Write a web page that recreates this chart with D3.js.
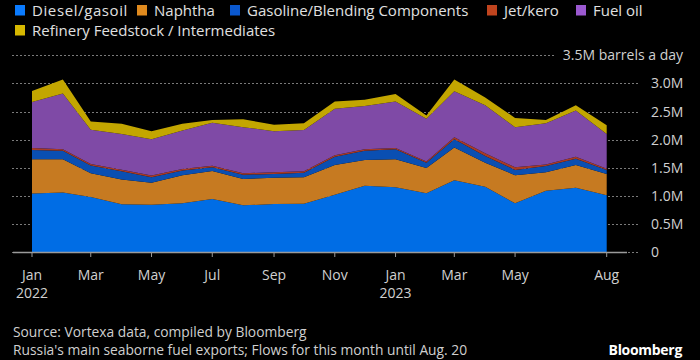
<!DOCTYPE html>
<html>
<head>
<meta charset="utf-8">
<script src="https://cdn.jsdelivr.net/npm/d3@7"></script>
<style>
  html, body { margin: 0; padding: 0; background: #000; }
  svg { display: block; font-family: "Open Sans", sans-serif; }
</style>
</head>
<body>
<svg id="chart" width="700" height="360"></svg>
<script>
// ---- Data (million barrels a day, monthly, 1st of month) ----
const months = ["2022-01","2022-02","2022-03","2022-04","2022-05","2022-06","2022-07","2022-08","2022-09","2022-10",
                "2022-11","2022-12","2023-01","2023-02","2023-03","2023-04","2023-05","2023-06","2023-07","2023-08"];
const diesel    = [1.04,1.06,0.98,0.85,0.84,0.866,0.943,0.83,0.854,0.86,1.02,1.18,1.15,1.044,1.275,1.16,0.866,1.09,1.145,1.01];
const naphtha   = [0.61,0.59,0.42,0.44,0.39,0.50,0.497,0.47,0.466,0.47,0.53,0.457,0.50,0.451,0.585,0.43,0.50,0.33,0.405,0.38];
const gasoline  = [0.165,0.15,0.14,0.145,0.10,0.085,0.067,0.076,0.07,0.08,0.146,0.163,0.18,0.095,0.145,0.12,0.095,0.11,0.11,0.07];
const jetKero   = [0.035,0.03,0.026,0.03,0.03,0.027,0.029,0.024,0.03,0.025,0.024,0.03,0.02,0.02,0.035,0.046,0.047,0.025,0.036,0.02];
const fuelOil   = [0.82,0.99,0.61,0.635,0.645,0.683,0.764,0.82,0.73,0.735,0.83,0.77,0.83,0.76,0.82,0.854,0.713,0.735,0.82,0.62];
const feedstock = [0.195,0.25,0.145,0.18,0.145,0.12,0.05,0.14,0.115,0.12,0.13,0.11,0.13,0.06,0.21,0.14,0.165,0.06,0.095,0.155];

const seriesNames = ["Diesel/gasoil","Naphtha","Gasoline/Blending Components","Jet/kero","Fuel oil","Refinery Feedstock / Intermediates"];
const seriesData = [diesel, naphtha, gasoline, jetKero, fuelOil, feedstock];
const legendColors = ["#0a7bff","#e08a1e","#0a58cf","#c0441e","#9b59d0","#d6b800"];
const areaColors   = ["#006de5","#c67a21","#0a4fb2","#a83a24","#7f4aa6","#c3a600"];

const yTicks = [0, 0.5, 1.0, 1.5, 2.0, 2.5, 3.0, 3.5];
const yTickLabels = ["0","0.5M","1.0M","1.5M","2.0M","2.5M","3.0M","3.5M"];
const xTickDates = ["2022-01","2022-03","2022-05","2022-07","2022-09","2022-11","2023-01","2023-03","2023-05","2023-08"];
const xTickMonth = ["Jan","Mar","May","Jul","Sep","Nov","Jan","Mar","May","Aug"];
const xTickYear  = ["2022","","","","","","2023","","",""];
const unitLabel = "barrels a day";
const source1 = "Source: Vortexa data, compiled by Bloomberg";
const source2 = "Russia's main seaborne fuel exports; Flows for this month until Aug. 20";

// ---- Build ----
const parse = d3.timeParse("%Y-%m");
const table = months.map((m, i) => {
  const row = { date: parse(m) };
  seriesNames.forEach((n, k) => row[n] = seriesData[k][i]);
  return row;
});

const svg = d3.select("#chart");
const x = d3.scaleTime().domain([parse("2022-01"), parse("2023-08")]).range([32, 606.7]);
const y = d3.scaleLinear().domain([0, 3.5]).range([252, 55.3]);

// gridlines
svg.append("g").selectAll("line").data(yTicks).join("line")
  .attr("x1", 12).attr("x2", (d, i) => i === yTicks.length - 1 ? 556 : 640)
  .attr("y1", d => Math.round(y(d)) + 0.5).attr("y2", d => Math.round(y(d)) + 0.5)
  .attr("stroke", "#7a7a7a").attr("stroke-width", 1).attr("stroke-dasharray", "2,2");

// stacked areas
const stack = d3.stack().keys(seriesNames);
const layers = stack(table);
const area = d3.area().x(d => x(d.data.date)).y0(d => y(d[0])).y1(d => y(d[1]));
svg.append("g").selectAll("path").data(layers).join("path")
  .attr("d", area).attr("fill", (d, i) => areaColors[i]);

// x axis
const xAxis = svg.append("g");
xAxis.append("line").attr("x1", 13).attr("x2", 627).attr("y1", 252.5).attr("y2", 252.5)
  .attr("stroke", "#9a9a9a").attr("stroke-width", 1.5);
const ticks = xAxis.selectAll("g.tick").data(xTickDates).join("g")
  .attr("transform", d => `translate(${x(parse(d))},0)`);
ticks.append("line").attr("y1", 252).attr("y2", 257).attr("stroke", "#9a9a9a").attr("stroke-width", 1);
ticks.append("text").attr("y", 279.5).attr("text-anchor", "middle").attr("fill", "#d0d0d0")
  .attr("font-size", 14).text((d, i) => xTickMonth[i]);
ticks.append("text").attr("y", 298).attr("text-anchor", "middle").attr("fill", "#d0d0d0")
  .attr("font-size", 14).text((d, i) => xTickYear[i]);

// y labels
svg.append("g").selectAll("text").data(yTicks.slice(0, -1)).join("text")
  .attr("x", 651).attr("y", d => y(d) + 5).attr("fill", "#d0d0d0").attr("font-size", 14)
  .text((d, i) => yTickLabels[i]);
svg.append("text").attr("x", 683).attr("y", y(3.5) + 5).attr("text-anchor", "end")
  .attr("fill", "#d0d0d0").attr("font-size", 14)
  .text(yTickLabels[yTickLabels.length - 1] + " " + unitLabel);

// legend
const legendPos = [[15, 0], [137, 0], [230, 0], [487, 0], [576, 0], [15, 1]];
const lg = svg.append("g").selectAll("g").data(seriesNames).join("g")
  .attr("transform", (d, i) => `translate(${legendPos[i][0]},${legendPos[i][1] * 20})`);
lg.append("rect").attr("x", 0).attr("y", 5).attr("width", 10).attr("height", 10.5)
  .attr("fill", (d, i) => legendColors[i]);
lg.append("text").attr("x", 17).attr("y", 16).attr("fill", "#e0e0e0").attr("font-size", 15)
  .attr("letter-spacing", (d, i) => i === 0 ? 0.6 : 0).text(d => d);

// footer
svg.append("text").attr("x", 13).attr("y", 337).attr("fill", "#cfcfcf").attr("font-size", 13.8).text(source1);
svg.append("text").attr("x", 13).attr("y", 355).attr("fill", "#cfcfcf").attr("font-size", 13.8).text(source2);
svg.append("text").attr("x", 682).attr("y", 355).attr("text-anchor", "end").attr("fill", "#ffffff")
  .attr("font-size", 14).attr("font-weight", "bold").attr("letter-spacing", -0.3).text("Bloomberg");
</script>
</body>
</html>
